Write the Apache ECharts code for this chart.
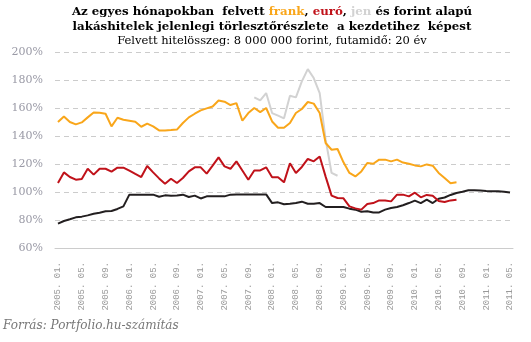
<!DOCTYPE html>
<html><head><meta charset="utf-8">
<script src="https://cdn.jsdelivr.net/npm/echarts@6/dist/echarts.min.js"></script>
<style>html,body{margin:0;padding:0;background:#fff}#c{width:531px;height:342px}</style>
</head><body><div id="c"></div>
<script>
// months 2005.01 .. 2011.05
const categories = [];
for (let y = 2005; y <= 2011; y++) {
  for (let m = 1; m <= 12; m++) {
    if (y === 2011 && m > 5) break;
    categories.push(y + '. ' + (m < 10 ? '0' + m : m) + '.');
  }
}
const frank = [150,154,150,148.3,149.7,153.3,156.8,156.6,155.9,146.9,153,151.6,150.9,150.2,146.6,148.8,146.9,144,144,144.2,144.6,149.3,153.3,155.9,158.3,159.7,161.1,165.4,164.5,162.1,163.5,150.9,156.4,160,157.1,160,150.4,145.9,145.9,149.3,156.4,159.3,164.3,163.1,156.4,135,130.2,130.7,121.2,113.6,111.1,114.7,120.7,120.2,123.1,123.1,121.9,123.1,121,120.2,119,118.3,119.7,118.8,113.6,110,106.2,106.9];
const euro = [106.4,114,110.7,108.8,109.3,116.6,112.4,116.6,116.6,114.5,117.4,117.4,115.2,112.9,110.7,118.6,114,109.7,105.9,109.5,106.4,110,114.7,117.6,117.6,113.1,118.8,124.7,118.3,116.6,121.9,115.4,108.8,115.4,115.4,117.6,110.5,110.5,106.9,120.5,113.6,117.9,123.6,121.9,125.4,111,97.4,95.7,95.5,89.7,88.3,87.4,91.4,92.1,94,94,93.3,98.1,98.1,96.9,99.5,96.2,97.9,97.4,93.5,92.8,94,94.5];
const jenStart = 33;
const jenValues = [167.6,165.4,170.7,156.4,154.5,152.6,168.8,167.6,179,187.8,181.4,170.7,137.4,113.6,111.6];
const forint = [77.4,79.3,80.5,81.9,82.4,83.3,84.5,85.2,86.2,86.4,87.9,89.7,98.1,98.1,98.1,98.1,98.1,96.6,97.6,97.4,97.5,98.1,96.4,97.4,95.4,96.9,96.9,96.9,96.9,98.1,98.3,98.3,98.3,98.3,98.3,98.3,92.1,92.6,91.2,91.6,92.1,93.1,91.6,91.6,92.1,89.3,89.3,89.3,89.3,88.1,87.4,85.9,86.2,85.4,85.4,87.4,88.6,89.3,90.5,92.1,93.8,92.1,94.5,92.1,95.2,96.1,97.9,99.3,100.2,101.2,101.2,101,100.7,100.6,100.6,100.2,99.6];
const yTicks = {min: 60, max: 200, interval: 20};

const jen = categories.map((c, i) => (i >= jenStart && i < jenStart + jenValues.length) ? jenValues[i - jenStart] : null);

const serif = '"DejaVu Serif", Georgia, serif';
const chart = echarts.init(document.getElementById('c'), null, {renderer: 'canvas'});
const lineStyle = (c) => ({color: c, width: 2});
chart.setOption({
  animation: false,
  backgroundColor: '#fff',
  grid: {left: 55, right: 18, top: 52, bottom: 94},
  xAxis: {
    type: 'category', data: categories, boundaryGap: true,
    axisLine: {lineStyle: {color: '#cccccc'}},
    axisTick: {show: false},
    axisLabel: {interval: 3, rotate: 90, margin: 14, color: '#999999', fontFamily: '"Liberation Mono", monospace', fontSize: 9}
  },
  yAxis: {
    type: 'value', min: yTicks.min, max: yTicks.max, interval: yTicks.interval,
    axisLine: {show: false}, axisTick: {show: false},
    axisLabel: {formatter: '{value}%', color: '#9a9aa6', fontFamily: serif, fontSize: 11, margin: 12},
    splitLine: {lineStyle: {color: '#cccccc', type: [5, 4]}}
  },
  series: [
    {type: 'line', data: jen, symbol: 'none', lineStyle: lineStyle('#d2d2d2'), connectNulls: false},
    {type: 'line', data: frank, symbol: 'none', lineStyle: lineStyle('#f9a61a')},
    {type: 'line', data: forint, symbol: 'none', lineStyle: lineStyle('#231f20')},
    {type: 'line', data: euro, symbol: 'none', lineStyle: lineStyle('#c0121a')}
  ],
  graphic: [
    {type: 'text', x: 272, y: 12, style: {
      text: '{b|Az egyes hónapokban  felvett }{o|frank}{b|, }{r|euró}{b|, }{g|jen}{b| és forint alapú}',
      align: 'center', verticalAlign: 'middle',
      rich: {
        b: {fontFamily: serif, fontWeight: 'bold', fontSize: 11.8, fill: '#000'},
        o: {fontFamily: serif, fontWeight: 'bold', fontSize: 11.8, fill: '#f9a61a'},
        r: {fontFamily: serif, fontWeight: 'bold', fontSize: 11.8, fill: '#c0121a'},
        g: {fontFamily: serif, fontWeight: 'bold', fontSize: 11.8, fill: '#d2d2d2'}
      }}},
    {type: 'text', x: 272, y: 27, style: {
      text: 'lakáshitelek jelenlegi törlesztőrészlete  a kezdetihez  képest',
      align: 'center', verticalAlign: 'middle', fontFamily: serif, fontWeight: 'bold', fontSize: 11.8, fill: '#000'}},
    {type: 'text', x: 272, y: 41, style: {
      text: 'Felvett hitelösszeg: 8 000 000 forint, futamidő: 20 év',
      align: 'center', verticalAlign: 'middle', fontFamily: serif, fontSize: 11.5, fill: '#000'}},
    {type: 'text', x: 3, y: 326, style: {
      text: 'Forrás: Portfolio.hu-számítás',
      align: 'left', verticalAlign: 'middle', fontFamily: serif, fontStyle: 'italic', fontSize: 12, fill: '#777777'}}
  ]
});
</script></body></html>
